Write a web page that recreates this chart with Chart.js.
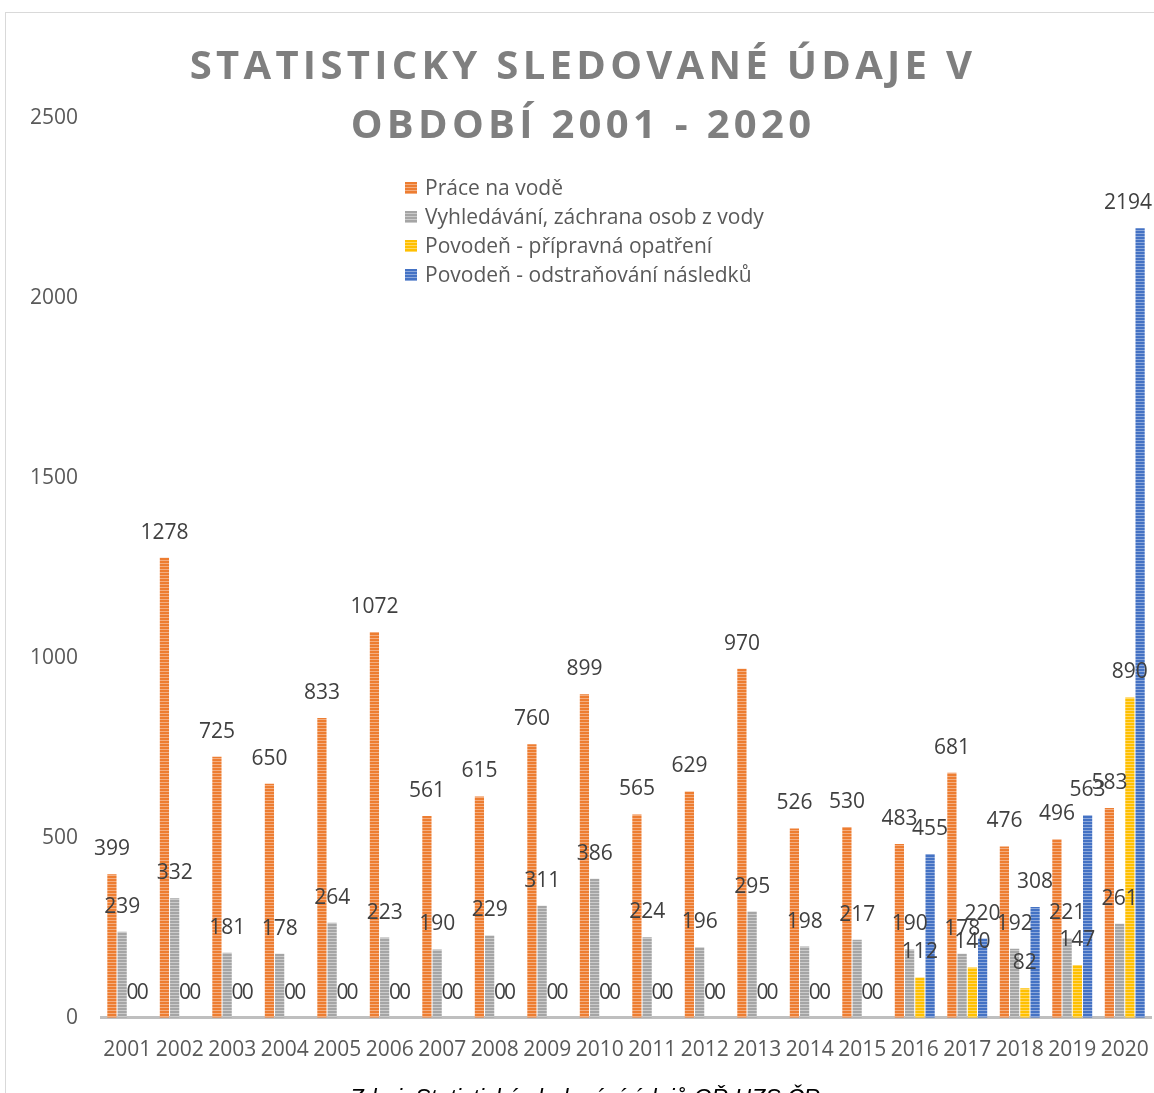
<!DOCTYPE html>
<html>
<head>
<meta charset="utf-8">
<script src="https://cdn.jsdelivr.net/npm/chart.js@4/dist/chart.umd.min.js"></script>
<style>
  html,body{margin:0;padding:0;background:#fff;width:1154px;height:1093px;overflow:hidden;position:relative;font-family:"Open Sans",sans-serif;}
  #frame{position:absolute;left:5px;top:12px;width:1200px;height:1200px;border:1px solid #d9d9d9;box-sizing:border-box;}
  #wrap{position:absolute;left:0;top:0;width:1154px;height:1093px;}
  #title{position:absolute;left:0;width:1166px;top:34px;text-align:center;color:#7f7f7f;font-weight:bold;font-size:40px;letter-spacing:4.3px;line-height:59px;}
  #legend{position:absolute;left:405px;top:173px;color:#595959;font-size:21px;line-height:29px;}
  #legend .it{display:flex;align-items:center;white-space:nowrap;}
  #legend .sw{width:12px;height:12px;margin-right:8px;}
  #caption{position:absolute;left:0;width:1170px;top:1085px;text-align:center;font-style:italic;font-size:23px;color:#000;font-family:"Liberation Sans",sans-serif;}
</style>
</head>
<body>
<div id="frame"></div>
<div id="wrap"><canvas id="c" width="1154" height="1093"></canvas></div>
<div id="title">STATISTICKY SLEDOVANÉ ÚDAJE V<br>OBDOBÍ 2001 - 2020</div>
<div id="legend"></div>
<div id="caption">Zdroj: Statistické sledování údajů GŘ HZS ČR</div>
<script>
const categories = ["2001","2002","2003","2004","2005","2006","2007","2008","2009","2010","2011","2012","2013","2014","2015","2016","2017","2018","2019","2020"];
const seriesNames = ["Práce na vodě","Vyhledávání, záchrana osob z vody","Povodeň - přípravná opatření","Povodeň - odstraňování následků"];
const praceNaVode = [399,1278,725,650,833,1072,561,615,760,899,565,629,970,526,530,483,681,476,496,583];
const vyhledavani = [239,332,181,178,264,223,190,229,311,386,224,196,295,198,217,190,178,192,221,261];
const povodenPriprava = [0,0,0,0,0,0,0,0,0,0,0,0,0,0,0,112,140,82,147,890];
const povodenOdstranovani = [0,0,0,0,0,0,0,0,0,0,0,0,0,0,0,455,220,308,563,2194];
const yTicks = [0,500,1000,1500,2000,2500];

const colors = ["#ED7D31","#A5A5A5","#FFC000","#4472C4"];
const lights = ["#F4AE80","#CBCBCB","#FFD866","#8CA8DB"];

function makePattern(main, light){
  const pc = document.createElement('canvas');
  pc.width = 4; pc.height = 3;
  const g = pc.getContext('2d');
  g.fillStyle = main; g.fillRect(0,0,4,3);
  g.fillStyle = light; g.fillRect(0,2,4,1);
  return document.getElementById('c').getContext('2d').createPattern(pc,'repeat');
}

// legend
const lg = document.getElementById('legend');
seriesNames.forEach((n,i)=>{
  const d = document.createElement('div'); d.className='it';
  const s = document.createElement('span'); s.className='sw';
  s.style.background = `repeating-linear-gradient(to bottom, ${colors[i]} 0px, ${colors[i]} 2px, ${lights[i]} 2px, ${lights[i]} 3px)`;
  const t = document.createElement('span'); t.textContent = n;
  d.appendChild(s); d.appendChild(t); lg.appendChild(d);
});

const dataArrays = [praceNaVode, vyhledavani, povodenPriprava, povodenOdstranovani];

const labelPlugin = {
  id:'valueLabels',
  afterDatasetsDraw(chart){
    const ctx = chart.ctx;
    ctx.save();
    ctx.font = '21px "Open Sans"';
    ctx.fillStyle = '#404040';
    ctx.textAlign = 'center';
    ctx.textBaseline = 'middle';
    chart.data.datasets.forEach((ds,di)=>{
      const meta = chart.getDatasetMeta(di);
      meta.data.forEach((el,i)=>{
        const txt = String(ds.data[i]);
        const w = ctx.measureText(txt).width;
        const x = Math.min(el.x, chart.width - 2 - w/2);
        ctx.fillText(txt, x, el.y - 25);
      });
    });
    ctx.restore();
  }
};

new Chart(document.getElementById('c'), {
  type:'bar',
  data:{
    labels: categories,
    datasets: dataArrays.map((arr,i)=>({
      label: seriesNames[i],
      data: arr,
      backgroundColor: makePattern(colors[i], lights[i]),
      borderWidth: 0,
      categoryPercentage: 0.78,
      barPercentage: 0.9
    }))
  },
  options:{
    responsive:false,
    animation:false,
    devicePixelRatio:1,
    layout:{padding:{left:7,right:3,top:118,bottom:30}},
    plugins:{legend:{display:false},title:{display:false},tooltip:{enabled:false}},
    scales:{
      x:{
        grid:{display:false,drawTicks:true,tickLength:20},
        border:{display:true,color:'#BFBFBF',width:3},
        ticks:{color:'#595959',font:{size:21,family:'"Open Sans"'},padding:0,autoSkip:false,maxRotation:0,minRotation:0}
      },
      y:{
        min:0,max:2500,
        afterBuildTicks(scale){ scale.ticks = yTicks.map(v=>({value:v})); },
        grid:{display:false,drawTicks:false},
        border:{display:false},
        ticks:{color:'#595959',font:{size:21,family:'"Open Sans"'},padding:23,callback:(v)=>String(v)}
      }
    }
  },
  plugins:[labelPlugin]
});
</script>
</body>
</html>
